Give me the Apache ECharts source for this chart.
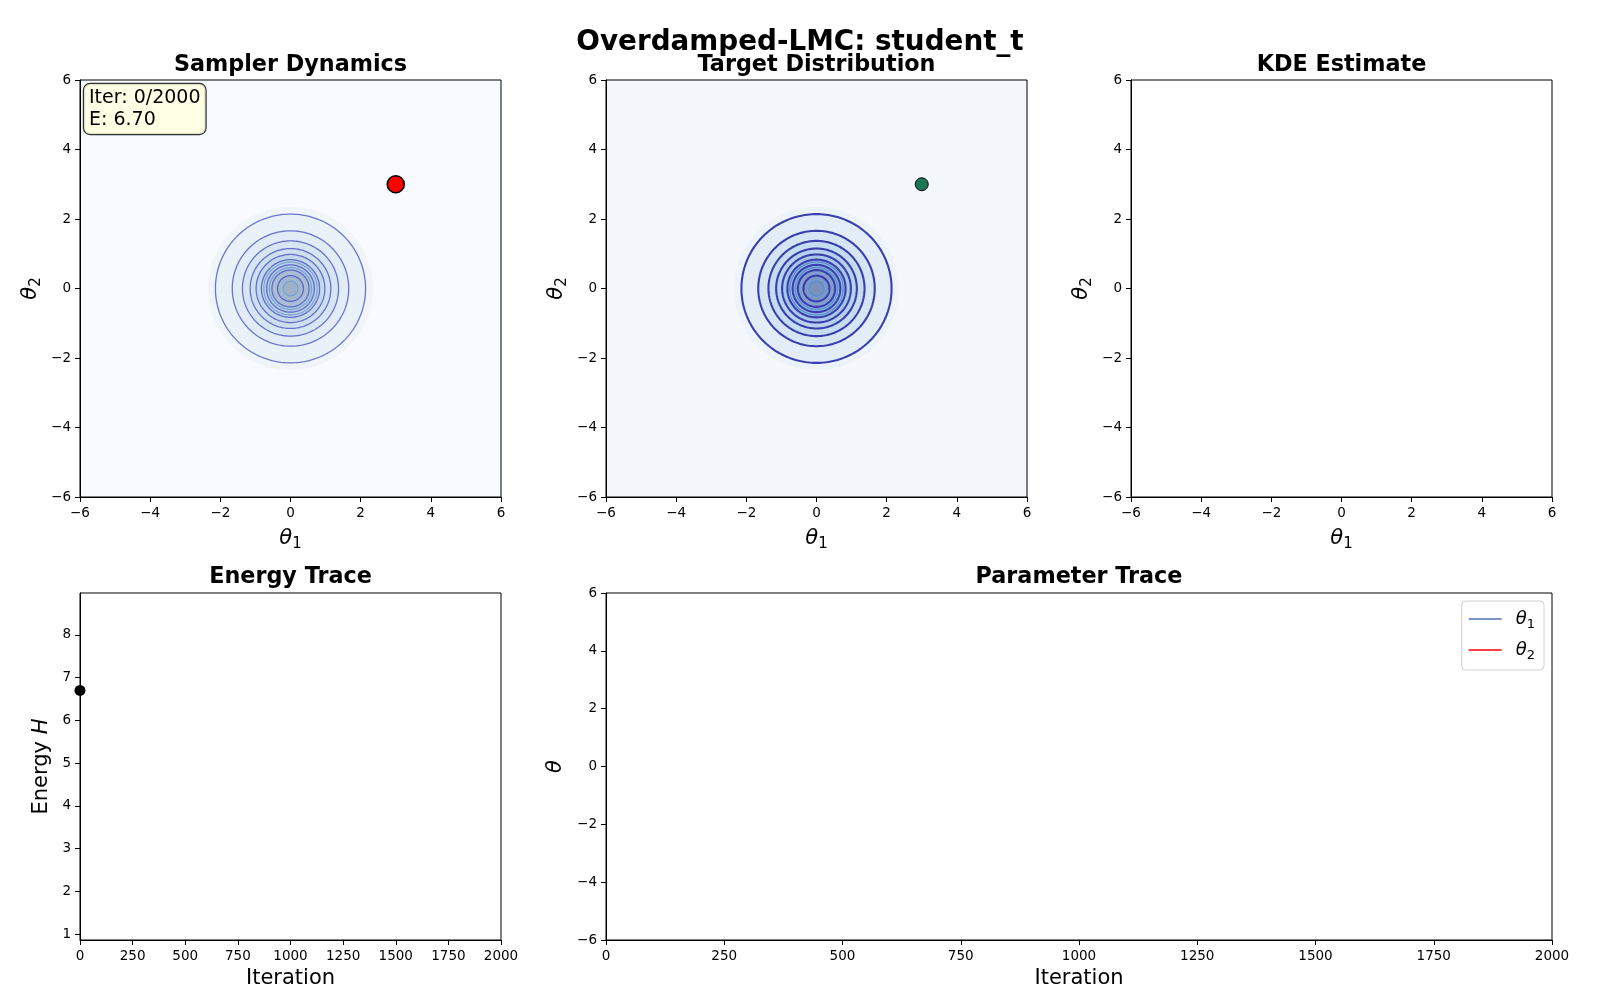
<!DOCTYPE html>
<html>
<head>
<meta charset="utf-8">
<style>html,body{margin:0;padding:0;background:#fff}#c{width:1600px;height:1000px}</style>
<script src="https://cdn.jsdelivr.net/npm/echarts@6/dist/echarts.min.js"></script>
</head>
<body>
<div id="c"></div>
<script>
// ---------------- data ----------------
const thetaRange = [-6, 6];
const thetaInterval = 2;
const iterRange = [0, 2000];
const iterInterval = 250;
const energyRange = [0.86, 8.98];
const energyTicks = [1, 2, 3, 4, 5, 6, 7, 8];
const targetCenter = [0, 0];
// contour radii, outer -> inner
const fillRadii = [2.35, 2.14, 1.66, 1.37, 1.15, 0.98, 0.83, 0.68, 0.53, 0.37, 0.21];
const darkLineRadii = [2.14, 1.66, 1.37, 1.15, 0.98, 0.83, 0.68, 0.53, 0.37];
const lightLineRadii = [0.76, 0.60, 0.21];
const samplerPosition = [3.0, 3.0];
const currentIter = 0;
const totalIter = 2000;
const currentEnergy = 6.70;
const energyPoints = [[0, 6.70]];
const theta1Trace = [];
const theta2Trace = [];

// ---------------- styles ----------------
const fillColors1 = ['#f0f5fb','#e9f1f9','#e1ecf7','#d8e6f3','#cedff0','#c4d8ec','#bacfe6','#b1c6df','#a9bdd6','#a2b6ce','#9fb1c8'];
const fillColors2 = ['#ecf3fb','#e2edf8','#d5e5f4','#c6dcf0','#b7d2ec','#a8c7e7','#99bbe1','#8caeda','#829fcf','#7b97c6','#7892bd'];
const FONT = 'DejaVu Sans';

const minusFmt = v => (v < 0 ? '\u2212' + Math.abs(v) : String(v));
const thetaName = sub => sub ? '{i|θ}{s|' + sub + '}' : '{i|θ}';
const nameRich = {
  i: {fontFamily: FONT, fontStyle: 'italic', fontSize: 21, color: '#000', lineHeight: 22},
  s: {fontFamily: FONT, fontSize: 15, color: '#000', lineHeight: 27, verticalAlign: 'bottom'},
  n: {fontFamily: FONT, fontSize: 21, color: '#000', lineHeight: 22}
};

function axisBase(extra) {
  return Object.assign({
    type: 'value',
    axisLine: {show: true, onZero: false, lineStyle: {color: '#000', width: 1}},
    axisTick: {show: true, inside: false, length: 5, lineStyle: {color: '#000', width: 1}},
    axisLabel: {color: '#000', fontSize: 13.5, fontFamily: FONT, margin: 9, formatter: minusFmt, showMinLabel: true, showMaxLabel: true},
    splitLine: {show: false},
    nameLocation: 'middle',
    nameTextStyle: {fontFamily: FONT, fontSize: 21, color: '#000', rich: nameRich}
  }, extra);
}

function circlePoints(api, r) {
  const pts = [];
  const N = 200;
  for (let k = 0; k <= N; k++) {
    const t = k / N * 2 * Math.PI;
    pts.push(api.coord([targetCenter[0] + r * Math.cos(t), targetCenter[1] + r * Math.sin(t)]));
  }
  return pts;
}

function fillSeries(idx, colors) {
  return {
    type: 'custom', xAxisIndex: idx, yAxisIndex: idx, silent: true, z: 1,
    data: fillRadii.map((r, i) => [r, i]),
    renderItem: (params, api) => ({
      type: 'polygon',
      shape: {points: circlePoints(api, api.value(0))},
      style: {fill: colors[api.value(1)], stroke: null}
    })
  };
}

function lineSeries(idx, radii, color, width) {
  return {
    type: 'custom', xAxisIndex: idx, yAxisIndex: idx, silent: true, z: 2,
    data: radii.map((r, i) => [r, i]),
    renderItem: (params, api) => ({
      type: 'polyline',
      shape: {points: circlePoints(api, api.value(0))},
      style: {stroke: color, lineWidth: width, fill: null}
    })
  };
}

const grids = [
  {left: 80, top: 80, width: 421, height: 417, backgroundColor: '#f7fbff'},
  {left: 606, top: 80, width: 421, height: 417, backgroundColor: '#f4f8fd'},
  {left: 1131, top: 80, width: 421, height: 417, backgroundColor: '#ffffff'},
  {left: 80, top: 593, width: 421, height: 347, backgroundColor: '#ffffff'},
  {left: 606, top: 593, width: 946, height: 347, backgroundColor: '#ffffff'}
].map(g => Object.assign({show: true, borderColor: '#000', borderWidth: 1, containLabel: false}, g));

const xAxes = [0, 1, 2].map(i => axisBase({
  gridIndex: i, min: thetaRange[0], max: thetaRange[1], interval: thetaInterval,
  name: thetaName('1'), nameGap: 28
})).concat([
  axisBase({gridIndex: 3, min: iterRange[0], max: iterRange[1], interval: iterInterval,
    name: 'Iteration', nameGap: 28}),
  axisBase({gridIndex: 4, min: iterRange[0], max: iterRange[1], interval: iterInterval,
    name: 'Iteration', nameGap: 28})
]);

const yAxes = [0, 1, 2].map(i => axisBase({
  gridIndex: i, min: thetaRange[0], max: thetaRange[1], interval: thetaInterval,
  name: thetaName('2'), nameGap: 36
})).concat([
  axisBase({gridIndex: 3, min: energyRange[0], max: energyRange[1],
    axisLabel: {color: '#000', fontSize: 13.5, fontFamily: FONT, margin: 9, customValues: energyTicks},
    axisTick: {show: true, length: 5, lineStyle: {color: '#000'}, customValues: energyTicks},
    name: '{n|Energy }{i|H}', nameGap: 27}),
  axisBase({gridIndex: 4, min: thetaRange[0], max: thetaRange[1], interval: thetaInterval,
    name: thetaName(''), nameGap: 37})
]);

const series = [
  fillSeries(0, fillColors1),
  lineSeries(0, darkLineRadii, 'rgba(72,82,190,0.78)', 1.3),
  lineSeries(0, lightLineRadii, 'rgba(105,155,215,0.85)', 1.1),
  fillSeries(1, fillColors2),
  lineSeries(1, darkLineRadii, '#3a3fae', 2.1),
  lineSeries(1, lightLineRadii, '#5a8fd2', 1.3),
  {type: 'scatter', xAxisIndex: 0, yAxisIndex: 0, z: 5, symbolSize: 17, data: [samplerPosition],
    itemStyle: {color: '#ff0000', borderColor: '#000', borderWidth: 1.6, opacity: 1}},
  {type: 'scatter', xAxisIndex: 1, yAxisIndex: 1, z: 5, symbolSize: 13, data: [samplerPosition],
    itemStyle: {color: '#1b7556', borderColor: '#000', borderWidth: 1, opacity: 1}},
  {type: 'scatter', xAxisIndex: 3, yAxisIndex: 3, z: 5, symbolSize: 11, clip: false, data: energyPoints,
    itemStyle: {color: '#000', opacity: 1}},
  {name: 'θ1', type: 'line', xAxisIndex: 4, yAxisIndex: 4, showSymbol: false, data: theta1Trace,
    lineStyle: {color: '#4c72b0', width: 1.2}, itemStyle: {color: '#4c72b0'}},
  {name: 'θ2', type: 'line', xAxisIndex: 4, yAxisIndex: 4, showSymbol: false, data: theta2Trace,
    lineStyle: {color: '#ff0000', width: 1.2}, itemStyle: {color: '#ff0000'}}
];

const titleText = (x, y, text, size) => ({
  type: 'text', x: x, y: y, z: 100,
  style: {text: text, fontFamily: FONT, fontWeight: 'bold', fontSize: size, fill: '#000', textAlign: 'center', textVerticalAlign: 'middle'}
});

const option = {
  backgroundColor: '#ffffff',
  animation: false,
  grid: grids,
  xAxis: xAxes,
  yAxis: yAxes,
  series: series,
  legend: {
    right: 56, top: 601, orient: 'vertical',
    data: ['θ1', 'θ2'],
    icon: 'rect', itemWidth: 33, itemHeight: 1.5, itemGap: 10,
    padding: [9, 9, 8, 7],
    backgroundColor: '#fff', borderColor: '#d0d0d0', borderWidth: 1, borderRadius: 4,
    formatter: name => '{i|θ}{s|' + name.slice(1) + '}',
    textStyle: {rich: {
      i: {fontFamily: FONT, fontStyle: 'italic', fontSize: 18, color: '#000', lineHeight: 20, padding: [0, 0, 0, 9]},
      s: {fontFamily: FONT, fontSize: 13, color: '#000', lineHeight: 24, verticalAlign: 'bottom'}
    }}
  },
  graphic: [
    titleText(800, 43, 'Overdamped-LMC: student_t', 27.8),
    titleText(290.5, 65, 'Sampler Dynamics', 22.3),
    titleText(816.5, 65, 'Target Distribution', 22.3),
    titleText(1341.5, 65, 'KDE Estimate', 22.3),
    titleText(290.5, 577, 'Energy Trace', 22.3),
    titleText(1079, 577, 'Parameter Trace', 22.3),
    {
      type: 'text', x: 84, y: 84, z: 100,
      style: {
        text: 'Iter: ' + currentIter + '/' + totalIter + '\nE: ' + currentEnergy.toFixed(2),
        fontFamily: FONT, fontSize: 19, fill: '#000', lineHeight: 22,
        backgroundColor: 'rgba(255,255,224,0.85)', borderColor: '#333', borderWidth: 1.2, borderRadius: 6,
        padding: [3, 5, 3, 5]
      }
    }
  ]
};

const chart = echarts.init(document.getElementById('c'), null, {renderer: 'canvas'});
chart.setOption(option);
</script>
</body>
</html>
